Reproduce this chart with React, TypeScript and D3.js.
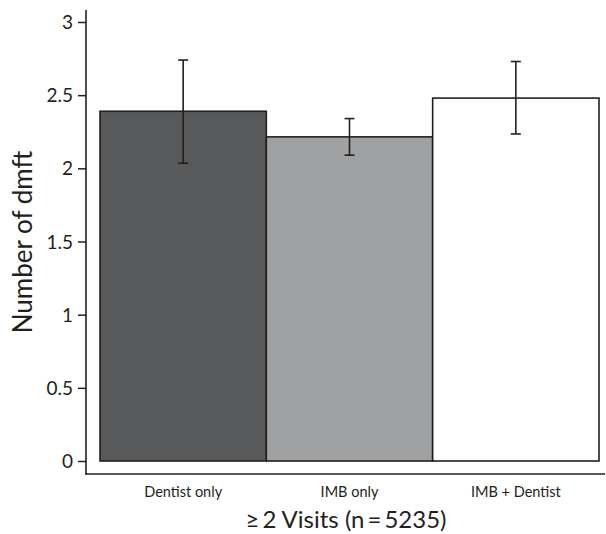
import React, { useEffect, useRef } from 'react';
import * as d3 from 'd3';

const categories = ['Dentist only', 'IMB only', 'IMB + Dentist'];
const means = [2.39, 2.215, 2.48];
const lower = [2.035, 2.09, 2.235];
const upper = [2.74, 2.34, 2.73];
const fills = ['#58595b', '#a0a1a3', '#ffffff'];
const yTicks = [0, 0.5, 1, 1.5, 2, 2.5, 3];

const W = 606;
const H = 534;
const FONT = 'Lato, "Open Sans", sans-serif';

const App = () => {
    const svgRef = useRef<SVGSVGElement>(null);

    useEffect(() => {
        const svg = d3.select(svgRef.current);
        svg.selectAll('*').remove();

        const data = categories.map((c, i) => ({ cat: c, mean: means[i], lo: lower[i], hi: upper[i], fill: fills[i] }));

        // scales
        const x = d3.scaleBand().domain(categories).range([100, 599]).padding(0);
        const y = d3.scaleLinear().domain([0, 3]).range([461, 22]);

        const axisX = 86;
        const axisY = 474;
        const ink = '#231f20';

        // bars
        svg.selectAll('.bar')
            .data(data)
            .enter().append('rect')
            .attr('x', d => x(d.cat)!)
            .attr('y', d => y(d.mean))
            .attr('width', x.bandwidth())
            .attr('height', d => y(0) - y(d.mean))
            .attr('fill', d => d.fill)
            .attr('stroke', ink)
            .attr('stroke-width', 1.6);

        // error bars
        const eb = svg.selectAll('.err').data(data).enter().append('g');
        eb.append('line')
            .attr('x1', d => x(d.cat)! + x.bandwidth() / 2)
            .attr('x2', d => x(d.cat)! + x.bandwidth() / 2)
            .attr('y1', d => y(d.lo))
            .attr('y2', d => y(d.hi))
            .attr('stroke', ink).attr('stroke-width', 1.6);
        ['lo', 'hi'].forEach(k => {
            eb.append('line')
                .attr('x1', d => x(d.cat)! + x.bandwidth() / 2 - 5)
                .attr('x2', d => x(d.cat)! + x.bandwidth() / 2 + 5)
                .attr('y1', (d: any) => y(d[k]))
                .attr('y2', (d: any) => y(d[k]))
                .attr('stroke', ink).attr('stroke-width', 1.6);
        });

        // y axis
        const yAxis = d3.axisLeft(y).tickValues(yTicks).tickSize(8).tickPadding(5)
            .tickFormat(d => String(d));
        const gy = svg.append('g').attr('transform', `translate(${axisX},0)`).call(yAxis);
        gy.select('.domain').remove();
        gy.selectAll('line').attr('stroke', ink).attr('stroke-width', 1.5);
        gy.selectAll('text')
            .attr('font-family', FONT).attr('font-size', 19).attr('fill', ink)
            .attr('dy', '0.35em');
        svg.append('line')
            .attr('x1', axisX).attr('x2', axisX).attr('y1', 10).attr('y2', axisY + 0.8)
            .attr('stroke', ink).attr('stroke-width', 1.6);

        // x axis
        svg.append('line')
            .attr('x1', axisX - 0.8).attr('x2', 605).attr('y1', axisY).attr('y2', axisY)
            .attr('stroke', ink).attr('stroke-width', 1.6);
        svg.selectAll('.cat')
            .data(categories)
            .enter().append('text')
            .attr('x', d => x(d)! + x.bandwidth() / 2)
            .attr('y', 497)
            .attr('text-anchor', 'middle')
            .attr('font-family', FONT).attr('font-size', 14.5).attr('fill', ink)
            .text(d => d);

        // titles
        svg.append('text')
            .attr('x', 346).attr('y', 528)
            .attr('text-anchor', 'middle')
            .attr('font-family', FONT).attr('font-size', 24).attr('fill', ink)
            .text('\u2265\u20092 Visits (n\u2009=\u20095235)');
        svg.append('text')
            .attr('transform', `translate(32,242) rotate(-90)`)
            .attr('text-anchor', 'middle')
            .attr('font-family', FONT).attr('font-size', 26).attr('fill', ink)
            .text('Number of dmft');
    }, []);

    return (
        <div style={{ position: 'absolute', left: 0, top: 0 }}>
            <svg ref={svgRef} width={W} height={H} style={{ display: 'block', background: '#fff' }}></svg>
        </div>
    );
};

export default App;
